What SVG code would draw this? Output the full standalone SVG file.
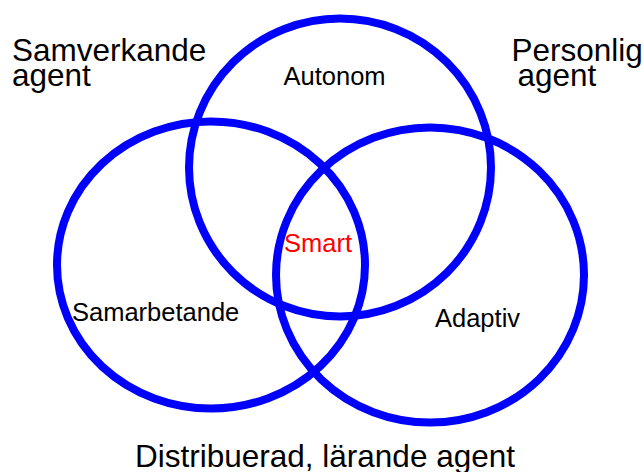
<svg xmlns="http://www.w3.org/2000/svg" width="644" height="472" viewBox="0 0 644 472">
  <style>
    .ring { fill: none; stroke: #0000ff; stroke-width: 8; }
    .big { font-family: "Liberation Sans", Arial, sans-serif; font-size: 31.5px; fill: #000000; }
    .small { font-family: "Liberation Sans", Arial, sans-serif; font-size: 25.5px; fill: #000000; }
    .smart { font-family: "Liberation Sans", Arial, sans-serif; font-size: 25.5px; fill: #ff0000; }
  </style>
  <rect x="0" y="0" width="644" height="472" fill="#ffffff"/>
  <g id="autonom">
    <ellipse class="ring" cx="340" cy="167.5" rx="151" ry="149"/>
    <text class="small" x="283.5" y="85">Autonom</text>
  </g>
  <g id="samarbetande">
    <ellipse class="ring" cx="211" cy="265" rx="154" ry="143.5"/>
    <text class="small" x="72" y="321">Samarbetande</text>
  </g>
  <g id="adaptiv">
    <ellipse class="ring" cx="430" cy="275" rx="154" ry="147.5"/>
    <text class="small" x="435" y="326.5">Adaptiv</text>
  </g>
  <g id="smart">
    <text class="smart" x="284" y="251.5">Smart</text>
  </g>
  <g id="samverkande-agent">
    <text class="big" x="12" y="60.5">Samverkande</text>
    <text class="big" x="12" y="86">agent</text>
  </g>
  <g id="personlig-agent">
    <text class="big" x="511.5" y="61">Personlig</text>
    <text class="big" x="517.5" y="86">agent</text>
  </g>
  <g id="distribuerad-larande-agent">
    <text class="big" x="135" y="467">Distribuerad, lärande agent</text>
  </g>
</svg>
